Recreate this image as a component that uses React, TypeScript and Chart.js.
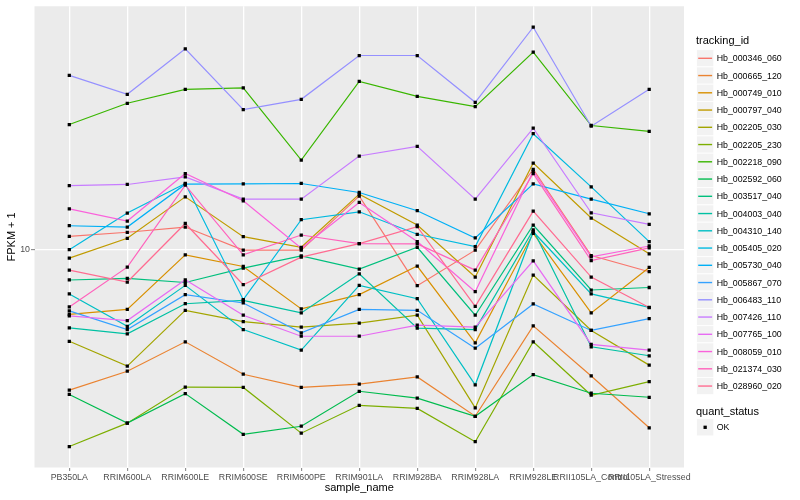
import { useEffect, useRef } from "react";
import { Chart, registerables } from "chart.js";

Chart.register(...registerables);

const sampleNames = [
  "PB350LA", "RRIM600LA", "RRIM600LE", "RRIM600SE", "RRIM600PE", "RRIM901LA",
  "RRIM928BA", "RRIM928LA", "RRIM928LE", "RRII105LA_Control", "RRII105LA_Stressed",
];

const trackingIds = [
  "Hb_000346_060", "Hb_000665_120", "Hb_000749_010", "Hb_000797_040", "Hb_002205_030",
  "Hb_002205_230", "Hb_002218_090", "Hb_002592_060", "Hb_003517_040", "Hb_004003_040",
  "Hb_004310_140", "Hb_005405_020", "Hb_005730_040", "Hb_005867_070", "Hb_006483_110",
  "Hb_007426_110", "Hb_007765_100", "Hb_008059_010", "Hb_021374_030", "Hb_028960_020",
];

// FPKM + 1 per sample (same order as sampleNames)
const Hb_000346_060 = [11.19, 11.57, 12.08, 9.98, 9.98, 15.59, 7.44, 9.98, 19.47, 9.54, 8.35];
const Hb_000665_120 = [3.14, 3.67, 4.68, 3.58, 3.21, 3.30, 3.50, 2.53, 5.34, 3.53, 2.30];
const Hb_000749_010 = [5.87, 6.12, 9.60, 8.72, 6.14, 6.91, 8.75, 4.64, 11.47, 5.94, 8.65];
const Hb_000797_040 = [9.34, 11.01, 15.50, 11.16, 10.22, 15.85, 12.28, 7.99, 20.50, 13.01, 9.68];
const Hb_002205_030 = [4.70, 3.83, 6.07, 5.53, 5.28, 5.46, 5.83, 2.71, 8.12, 5.14, 3.86];
const Hb_002205_230 = [1.97, 2.39, 3.22, 3.21, 2.20, 2.77, 2.70, 2.05, 4.68, 3.01, 3.37];
const Hb_002218_090 = [28.18, 33.58, 37.68, 38.11, 21.01, 40.24, 35.57, 32.68, 51.24, 27.95, 26.61];
const Hb_002592_060 = [3.03, 2.39, 3.05, 2.18, 2.33, 3.11, 2.94, 2.53, 3.57, 3.06, 2.96];
const Hb_003517_040 = [7.80, 7.90, 7.64, 8.60, 9.52, 8.53, 10.22, 5.83, 12.28, 7.18, 7.33];
const Hb_004003_040 = [5.25, 5.00, 6.41, 6.59, 5.94, 8.21, 5.24, 5.18, 11.79, 4.49, 4.17];
const Hb_004310_140 = [6.95, 5.32, 7.46, 5.18, 4.37, 7.46, 6.68, 3.28, 11.62, 6.95, 6.22];
const Hb_005405_020 = [10.02, 13.56, 17.31, 6.63, 12.83, 13.70, 11.38, 10.28, 26.11, 16.83, 10.71];
const Hb_005730_040 = [12.21, 12.08, 17.21, 17.25, 17.31, 16.07, 13.82, 11.04, 17.25, 15.21, 13.48];
const Hb_005867_070 = [6.04, 5.18, 6.91, 6.45, 5.04, 6.12, 6.07, 4.44, 6.40, 5.14, 5.67];
const Hb_006483_110 = [42.27, 36.16, 52.65, 31.88, 34.70, 49.83, 49.83, 33.86, 62.94, 27.79, 37.68];
const Hb_007426_110 = [17.02, 17.17, 18.27, 15.21, 15.21, 21.72, 23.52, 15.21, 27.34, 13.59, 12.35];
const Hb_007765_100 = [5.80, 5.58, 7.81, 5.83, 4.90, 4.90, 5.37, 5.28, 9.14, 4.58, 4.37];
const Hb_008059_010 = [14.04, 12.69, 18.79, 15.00, 10.14, 14.80, 10.71, 7.08, 19.15, 9.44, 10.33];
const Hb_021374_030 = [6.24, 8.67, 17.07, 9.60, 11.31, 10.53, 10.51, 8.46, 18.79, 9.16, 10.17];
const Hb_028960_020 = [8.46, 7.67, 12.44, 7.50, 9.42, 10.53, 12.11, 6.27, 13.78, 7.99, 6.21];

const fpkmSeries = [
  Hb_000346_060, Hb_000665_120, Hb_000749_010, Hb_000797_040, Hb_002205_030,
  Hb_002205_230, Hb_002218_090, Hb_002592_060, Hb_003517_040, Hb_004003_040,
  Hb_004310_140, Hb_005405_020, Hb_005730_040, Hb_005867_070, Hb_006483_110,
  Hb_007426_110, Hb_007765_100, Hb_008059_010, Hb_021374_030, Hb_028960_020,
];

const yTickValues = [10];
const quantStatus = ["OK"];

const palette = [
  "#F8766D", "#EA8331", "#D89000", "#C09B00", "#A3A500", "#7CAE00", "#39B600", "#00BB4E",
  "#00BF7D", "#00C1A3", "#00BFC4", "#00BAE0", "#00B0F6", "#35A2FF", "#9590FF", "#C77CFF",
  "#E76BF3", "#FA62DB", "#FF62BC", "#FF6C91",
];

const FONT = "'Liberation Sans', Arial, Helvetica, sans-serif";

const panelBg = {
  id: "panelBg",
  beforeDraw(chart: any) {
    const { ctx, chartArea } = chart;
    ctx.save();
    ctx.fillStyle = "#EBEBEB";
    ctx.fillRect(chartArea.left, chartArea.top, chartArea.right - chartArea.left, chartArea.bottom - chartArea.top);
    ctx.restore();
  },
};

export default function App() {
  const ref = useRef<HTMLCanvasElement>(null);

  useEffect(() => {
    document.body.style.margin = "0";
    const canvas = ref.current;
    if (!canvas) return;

    const lineSets = fpkmSeries.map((vals, i) => ({
      type: "line" as const,
      label: trackingIds[i],
      data: vals.map((v, j) => ({ x: j, y: v })),
      borderColor: palette[i],
      backgroundColor: palette[i],
      borderWidth: 1.2,
      pointRadius: 0,
      pointHoverRadius: 0,
      fill: false,
      tension: 0,
      order: fpkmSeries.length - i,
    }));

    const pointSet = {
      type: "scatter" as const,
      label: quantStatus[0],
      data: fpkmSeries.flatMap((vals) => vals.map((v, j) => ({ x: j, y: v }))),
      pointStyle: "rect",
      pointRadius: 2.3,
      pointHoverRadius: 2.3,
      backgroundColor: "#000",
      borderColor: "#000",
      borderWidth: 0,
      showLine: false,
      order: 0,
    };

    const logs = fpkmSeries.flat().map((v) => Math.log10(v));
    const lo = Math.min(...logs);
    const hi = Math.max(...logs);
    const pad = (hi - lo) * 0.05;
    const n = sampleNames.length;

    const chart = new Chart(canvas, {
      type: "line",
      data: { datasets: [...lineSets, pointSet] as any },
      options: {
        animation: false,
        responsive: false,
        maintainAspectRatio: false,
        events: [],
        layout: { padding: { top: 5, right: 116, left: 0, bottom: 0 } },
        plugins: {
          legend: { display: false },
          tooltip: { enabled: false },
        },
        scales: {
          x: {
            type: "linear",
            min: -0.6,
            max: n - 1 + 0.6,
            afterBuildTicks: (s: any) => {
              s.ticks = sampleNames.map((_, i) => ({ value: i }));
            },
            afterFit: (s: any) => {
              s.height = 32.5;
            },
            grid: { color: "#FFFFFF", lineWidth: 1.3, tickColor: "#7F7F7F", tickLength: 3.5, tickWidth: 1 },
            border: { display: false },
            ticks: {
              autoSkip: false,
              maxRotation: 0,
              minRotation: 0,
              padding: 1,
              color: "#4D4D4D",
              font: { size: 8.8, family: FONT },
              callback: (v: any) => sampleNames[v as number] ?? "",
            },
            title: {
              display: true,
              text: "sample_name",
              color: "#000",
              font: { size: 11, family: FONT },
              padding: { top: 0, bottom: 5.4 },
            },
          },
          y: {
            type: "logarithmic",
            min: Math.pow(10, lo - pad),
            max: Math.pow(10, hi + pad),
            afterBuildTicks: (s: any) => {
              s.ticks = yTickValues.map((v) => ({ value: v }));
            },
            afterFit: (s: any) => {
              s.width = 34.5;
            },
            grid: { color: "#FFFFFF", lineWidth: 1.3, tickColor: "#7F7F7F", tickLength: 3.5, tickWidth: 1 },
            border: { display: false },
            ticks: {
              padding: 1,
              color: "#4D4D4D",
              font: { size: 8.8, family: FONT },
              callback: (v: any) => String(v),
            },
            title: {
              display: true,
              text: "FPKM + 1",
              color: "#000",
              font: { size: 11, family: FONT },
              padding: { top: 5.4, bottom: 0 },
            },
          },
        },
      },
      plugins: [panelBg],
    });

    return () => chart.destroy();
  }, []);

  const itemH = 17.25;
  const keyW = 17.3;
  const keyX = 696.5;
  const firstCy = 58.3;
  const okCy = 427.3;
  return (
    <div style={{ position: "relative", width: 800, height: 500, fontFamily: FONT, background: "#fff" }}>
      <canvas ref={ref} width={800} height={500} style={{ position: "absolute", left: 0, top: 0, width: 800, height: 500 }} />
      <svg width={800} height={500} style={{ position: "absolute", left: 0, top: 0, pointerEvents: "none" }}>
        {trackingIds.map((id, i) => {
          const cy = firstCy + itemH * i;
          return (
            <g key={id}>
              <rect x={keyX} y={cy - itemH / 2} width={keyW} height={itemH} fill="#F2F2F2" stroke="#FFFFFF" strokeWidth={0.8} />
              <line x1={keyX + 1.7} x2={keyX + keyW - 1.7} y1={cy} y2={cy} stroke={palette[i]} strokeWidth={1.4} />
            </g>
          );
        })}
        <rect x={keyX} y={okCy - itemH / 2} width={keyW} height={itemH} fill="#F2F2F2" stroke="#FFFFFF" strokeWidth={0.8} />
        <rect x={keyX + keyW / 2 - 1.65} y={okCy - 1.65} width={3.3} height={3.3} fill="#000" />
      </svg>
      <div style={{ position: "absolute", left: 696, top: 33, fontSize: 11, lineHeight: "15px", color: "#000", whiteSpace: "nowrap" }}>
        tracking_id
      </div>
      {trackingIds.map((id, i) => {
        const cy = firstCy + itemH * i;
        return (
          <div
            key={id}
            style={{
              position: "absolute",
              left: 716.7,
              top: cy - 6,
              fontSize: 8.8,
              lineHeight: "12px",
              color: "#000",
              whiteSpace: "nowrap",
            }}
          >
            {id}
          </div>
        );
      })}
      <div style={{ position: "absolute", left: 696, top: 404, fontSize: 11, lineHeight: "15px", color: "#000", whiteSpace: "nowrap" }}>
        quant_status
      </div>
      <div style={{ position: "absolute", left: 716.7, top: okCy - 6, fontSize: 8.8, lineHeight: "12px", color: "#000", whiteSpace: "nowrap" }}>
        {quantStatus[0]}
      </div>
    </div>
  );
}
